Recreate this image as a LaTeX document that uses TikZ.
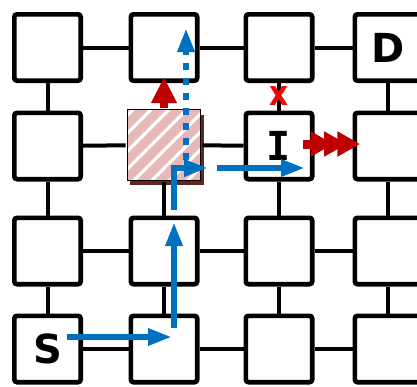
\documentclass[tikz,border=0pt]{standalone}
\usepackage{fontspec}
\setmainfont{DejaVu Sans}
\newfontfamily\monofont{DejaVu Sans Mono}
\usepackage{tikz}
\usetikzlibrary{arrows.meta, patterns.meta, shadows}
\definecolor{routeblue}{HTML}{0070C0}
\definecolor{blockred}{HTML}{C00000}
\definecolor{hatchpink}{HTML}{E6B9B8}
\definecolor{shadowred}{HTML}{632523}

\begin{document}
\begin{tikzpicture}[
    x=0.75pt, y=-0.75pt,
    cell/.style={rectangle, draw, line width=3.5pt, rounded corners=2pt, fill=white, minimum size=49.75pt, inner sep=0pt},
    letter/.style={font=\fontsize{30}{30}\selectfont\bfseries},
    busy/.style={rectangle, draw, line width=0.75pt, minimum width=55pt, minimum height=53pt, inner sep=0pt,
        drop shadow={fill=shadowred, opacity=1, shadow xshift=2.25pt, shadow yshift=-3.75pt},
        preaction={fill=hatchpink}, pattern={Lines[angle=45, distance=9.5pt, line width=2.4pt]}, pattern color=white},
    link/.style={line width=3pt},
    route/.style={routeblue, line width=4.5pt, -{Triangle[length=18pt, width=12pt]}},
    probe/.style={route, dash pattern=on 5.25pt off 6pt},
    blocked/.style={blockred, line width=6pt, -{Triangle[length=19.5pt, width=18pt]}},
    push/.style={blockred, line width=6.75pt, -{Triangle[length=17pt, width=18pt, sep=-7pt] Triangle[length=17pt, width=18pt, sep=-7pt] Triangle[length=17pt, width=18pt]}},
    cross/.style={text=red, font=\fontsize{26}{26}\selectfont\bfseries, inner sep=0pt},
]
\useasboundingbox (0,0) rectangle (417,386);

% grid of routers
\node[cell] (n11) at (47.5,47.5) {};
\node[cell] (n12) at (164,47.5) {};
\node[cell] (n13) at (279,47.5) {};
\node[cell, letter] (n14) at (388,47.5) {D};
\node[cell] (n21) at (47.5,146) {};
\node[busy] (n22) at (164,145) {};
\node[cell, letter] (n23) at (279,146) {\monofont I};
\node[cell] (n24) at (388,146) {};
\node[cell] (n31) at (47.5,251) {};
\node[cell] (n32) at (164,251) {};
\node[cell] (n33) at (279,251) {};
\node[cell] (n34) at (388,251) {};
\node[cell, letter] (n41) at (47.5,349) {S};
\node[cell] (n42) at (164,349) {};
\node[cell] (n43) at (279,349) {};
\node[cell] (n44) at (388,349) {};

% links
\draw[link] (n11) -- (n12) (n12) -- (n13) (n13) -- (n14);
\draw[link] (n21) -- (n22) (n22) -- (n23) (n23) -- (n24);
\draw[link] (n31) -- (n32) (n32) -- (n33) (n33) -- (n34);
\draw[link] (n41) -- (n42) (n42) -- (n43) (n43) -- (n44);
\draw[link] (n11) -- (n21) (n21) -- (n31) (n31) -- (n41);
\draw[link] (n12) -- (n22) (n22) -- (n32) (n32) -- (n42);
\draw[link] (n13) -- (n23) (n23) -- (n33) (n33) -- (n43);
\draw[link] (n14) -- (n24) (n24) -- (n34) (n34) -- (n44);

% route points
\coordinate (start) at (67,337);
\coordinate (turn) at (172,337);
\coordinate (upA) at (174,328);
\coordinate (upB) at (174,222);
\coordinate (bendA) at (174,210);
\coordinate (bendB) at (208,168);
\coordinate (eastA) at (217,168);
\coordinate (eastB) at (305,168);
\coordinate (probeA) at (186,160);
\coordinate (probeB) at (186,28);
\coordinate (pushA) at (303,144);
\coordinate (pushB) at (360,144);

\draw[route] (start) -- (turn);
\draw[route] (upA) -- (upB);
\draw[route] (bendA) |- (bendB);
\draw[route] (eastA) -- (eastB);
\draw[probe] (probeA) -- (probeB);
\draw[blocked] (n22.north) -- ([yshift=4.5pt]n12.south);
\draw[push] (pushA) -- (pushB);
\node[cross] (cut) at (279,96) {\scalebox{0.85}[1]{x}};

\end{tikzpicture}
\end{document}
